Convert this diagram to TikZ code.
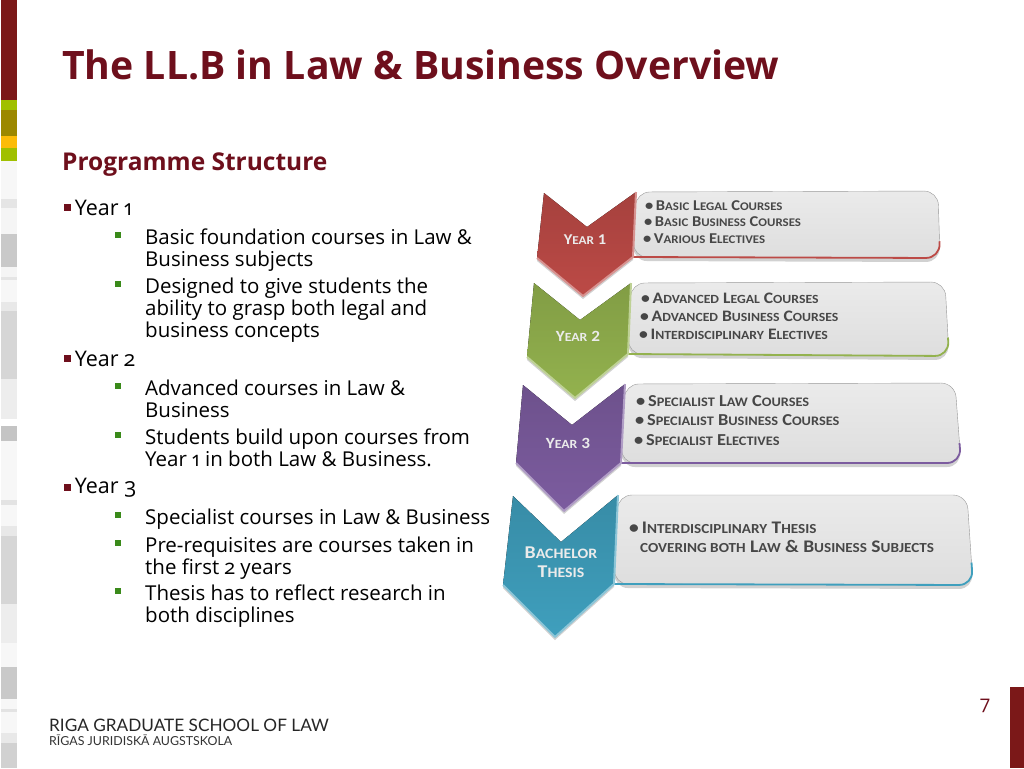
\documentclass[tikz,border=0pt]{standalone}
\usepackage{fontspec}
\usetikzlibrary{calc,positioning}
\setmainfont[Numbers=OldStyle]{Open Sans}
\newfontfamily\bandfont[FakeStretch=1.1]{Carlito}
\newfontfamily\logofont{Lato}
\definecolor{lawred}{HTML}{6E0F1C}
\definecolor{barred}{HTML}{7B1818}
\definecolor{bulgreen}{HTML}{3A8A1A}
\definecolor{barlime}{HTML}{A0C000}
\definecolor{barolive}{HTML}{9C8800}
\definecolor{barorange}{HTML}{FCBC08}
\definecolor{bandred}{HTML}{BC4A46}
\definecolor{bandgreen}{HTML}{93B24E}
\definecolor{bandviolet}{HTML}{7C5C9F}
\definecolor{bandteal}{HTML}{3F9FBD}
% small letters of the band texts
\newcommand{\sm}[1]{{\fontsize{\smsize}{16}\selectfont\uppercase{#1}}}
\newcommand{\smsize}{12}
\tikzset{
  slidetxt/.style={inner sep=0pt,anchor=north west,align=left},
  yearbul/.style={fill=lawred,inner sep=0pt,minimum size=7pt},
  subbul/.style={fill=bulgreen,inner sep=0pt,minimum size=6pt},
  bandlbl/.style={inner sep=0pt,align=center,text=white!92!black},
  banditem/.style={inner sep=0pt,anchor=base west,text=black!72},
}
% one chevron with its body: colour, six chevron points, two body corners
\newcommand{\yearband}[9]{
  \fill[black,opacity=.18,rounded corners=14pt,yshift=-4pt] (#4) -- (#8) -- (#9) -- (#5) -- cycle;
  \fill[black,opacity=.18,yshift=-3pt] (#7) -- (#6) -- (#5) -- (#4) -- (#3) -- (#2) -- cycle;
  \draw[black!40,top color=black!8,bottom color=black!13,rounded corners=14pt] (#4) -- (#8) -- (#9) -- (#5) -- cycle;
  \draw[#1,line width=1.8pt,rounded corners=14pt] (#5) -- (#9) -- ($(#9)!.25!(#8)$);
  \fill[top color=#1!88!black,bottom color=#1] (#2) -- (#3) -- (#4) -- (#5) -- (#6) -- (#7) -- cycle;
  \draw[#1!60!white,line width=2pt,line join=round] (#7) -- (#6) -- (#5) -- (#4);
}
\begin{document}
\begin{tikzpicture}[x=1pt,y=-1pt,line join=round]
  \useasboundingbox (0,0) rectangle (1024,768);
  % sidebar
  \foreach \ya/\yb/\barcol in {0/100/barred,100/110/barlime,110/136/barolive,136/148/barorange,148/161/barlime,
    161/199/black!3,199/208/black!10,208/234/black!4,234/267/black!21,267/277/black!4,277/280/black!10,280/302/black!3,302/311/black!9,311/379/black!16,379/419/black!7,
    426/441/black!23,441/500/black!3,500/505/black!11,505/526/black!3,526/536/black!9,536/604/black!16,604/643/black!7,643/667/black!3,667/699/black!21,
    699/709/black!3,709/712/black!11,712/733/black!3,733/743/black!9,743/768/black!18}
    \fill[\barcol] (1,\ya) rectangle (17,\yb);
  \fill[barred] (1010,687) rectangle (1024,768);
  % headings
  \node[slidetxt,anchor=base west,text=lawred,font=\bfseries\fontsize{39.2}{44}\selectfont] (title) at (62,79) {The LL.B in Law \& Business Overview};
  \node[slidetxt,anchor=base west,text=lawred,font=\bfseries\fontsize{24.5}{28}\selectfont] (subtitle) at (62,170) {Programme Structure};
  \node[anchor=base,inner sep=0pt,text=lawred,font=\fontsize{19}{22}\selectfont] (pageno) at (985,709) {7};
  % left column
  \foreach \nm/\yy/\txt in {ya/207/{Year 1},yb/358/{Year 2},yc/487/{Year 3}}{
    \node[yearbul] (bul\nm) at (67,\yy) {};
    \node[slidetxt,anchor=west,font=\fontsize{21.5}{22}\selectfont,right=4pt of bul\nm,yshift=-1pt] (txt\nm) {\txt};
  }
  \foreach \nm/\yy/\txt in {sa/235/{Basic foundation courses in Law \&\\Business subjects},
    sb/284/{Designed to give students the\\ability to grasp both legal and\\business concepts},
    sc/386/{Advanced courses in Law \&\\Business},
    sd/435/{Students build upon courses from\\Year 1 in both Law \& Business.},
    se/515/{Specialist courses in Law \& Business},
    sf/543/{Pre-requisites are courses taken in\\the first 2 years},
    sg/591/{Thesis has to reflect research in\\both disciplines}}{
    \node[subbul] (bul\nm) at (118,\yy) {};
    \node[slidetxt,font=\fontsize{20.5}{22}\selectfont] (txt\nm) at (145,\yy-6.5) {\txt};
  }
  % bands
  \yearband{bandred}{544,193}{587,227}{636,192}{633,257}{583,296}{537,258}{938,191}{940,258}
  \yearband{bandgreen}{534,283}{580,320}{631,283}{628,354}{575,398}{527,357}{945,282}{949,356}
  \yearband{bandviolet}{523,385}{572,425}{625,384}{621,463}{564,511}{516,463}{955,383}{961,463}
  \yearband{bandteal}{513,496}{561,542}{618,495}{614,584}{555,637}{503,585}{967,495}{973,585}
  \foreach \nm/\xx/\yy/\sz/\txt in {lblya/585/240/15/{Y\sm{ear} 1},lblyb/578/336/15.6/{Y\sm{ear} 2},lblyc/568/443/15.6/{Y\sm{ear} 3},
    lblth/561/562/18/{B\sm{achelor}\\T\sm{hesis}}}{
    \pgfmathsetmacro\smsize{\sz*.8}
    \node[bandlbl,font=\bandfont\bfseries\fontsize{\sz}{19}\selectfont] (\nm) at (\xx,\yy) {\txt};
  }
  \foreach \nm/\xx/\yy/\sz/\txt in {ia/645/210/15/{•\,B\sm{asic} L\sm{egal} C\sm{ourses}},ib/644/226/15/{•\,B\sm{asic} B\sm{usiness} C\sm{ourses}},ic/643/243/15/{•\,V\sm{arious} E\sm{lectives}},
    id/641/303/16/{•\,A\sm{dvanced} L\sm{egal} C\sm{ourses}},ie/640/321/16/{•\,A\sm{dvanced} B\sm{usiness} C\sm{ourses}},if/639/339/16/{•\,I\sm{nterdisciplinary} E\sm{lectives}},
    ig/636/406/16.7/{•\,S\sm{pecialist} L\sm{aw} C\sm{ourses}},ih/635/425/16.7/{•\,S\sm{pecialist} B\sm{usiness} C\sm{ourses}},ii/634/445/16.7/{•\,S\sm{pecialist} E\sm{lectives}},
    ij/629/533/17.7/{•\,I\sm{nterdisciplinary} T\sm{hesis}},ik/640/552/17.7/{\sm{covering both} L\sm{aw} \& B\sm{usiness} S\sm{ubjects}}}{
    \pgfmathsetmacro\smsize{\sz*.78}
    \node[banditem,font=\bandfont\bfseries\fontsize{\sz}{18}\selectfont] (\nm) at (\xx,\yy) {\txt};
  }
  % logo
  \node[inner sep=0pt,anchor=base west,text=black!85,font=\logofont\fontsize{17.2}{22}\selectfont] (logoa) at (49,731) {RIGA GRADUATE SCHOOL OF LAW};
  \node[inner sep=0pt,anchor=base west,text=black!80,font=\logofont\fontsize{12.4}{14}\selectfont] (logob) at (49,745) {RĪGAS JURIDISKĀ AUGSTSKOLA};
\end{tikzpicture}
\end{document}
